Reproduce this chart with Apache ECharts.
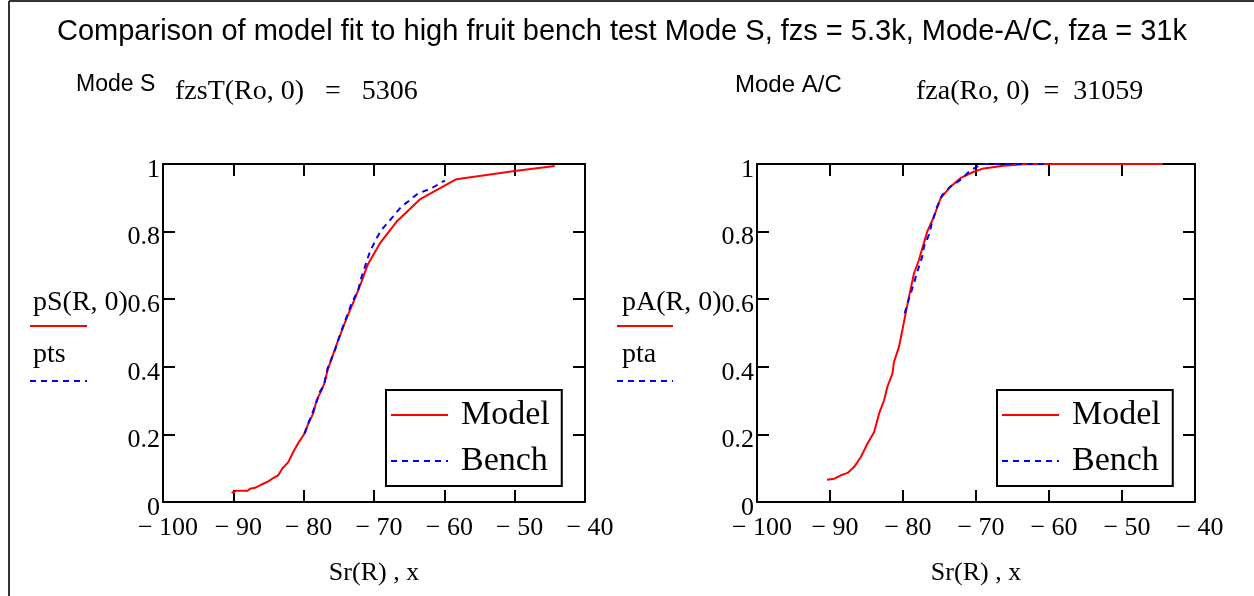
<!DOCTYPE html>
<html>
<head>
<meta charset="utf-8">
<script src="https://cdn.jsdelivr.net/npm/echarts@6/dist/echarts.min.js"></script>
<style>html,body{margin:0;padding:0;background:#fff}#c{width:1254px;height:596px}</style>
</head>
<body>
<div id="c"></div>
<script>
// ---- data ----
const xTicks = [-100, -90, -80, -70, -60, -50, -40];
const yTicks = [0, 0.2, 0.4, 0.6, 0.8, 1];

const modelS_x = [-90.24,-89.67,-87.96,-87.63,-86.92,-86.21,-85.74,-85.03,-84.32,-83.61,-83.04,-82.19,-81.48,-80.67,-79.82,-79.35,-78.64,-78.16,-77.45,-77.07,-76.60,-76.03,-75.09,-73.90,-72.72,-71.77,-70.92,-69.17,-66.80,-63.49,-58.28,-49.99,-44.31];
const modelS_y = [0.027,0.033,0.033,0.039,0.042,0.049,0.054,0.061,0.071,0.079,0.099,0.118,0.148,0.178,0.204,0.232,0.262,0.301,0.331,0.350,0.390,0.424,0.479,0.543,0.602,0.652,0.701,0.765,0.829,0.895,0.955,0.979,0.994];

const benchS_x = [-79.91,-79.35,-78.78,-78.16,-77.69,-77.12,-76.60,-75.56,-74.61,-73.19,-72.25,-71.77,-71.21,-70.59,-69.65,-68.94,-67.52,-66.10,-64.91,-63.73,-61.84,-59.93];
const benchS_y = [0.202,0.232,0.262,0.296,0.326,0.346,0.395,0.449,0.508,0.587,0.627,0.666,0.701,0.740,0.780,0.805,0.839,0.874,0.893,0.913,0.928,0.951];

const modelA_x = [-90.41,-89.41,-88.50,-87.59,-86.68,-85.77,-84.86,-83.95,-83.27,-82.59,-82.14,-81.45,-81.23,-80.55,-80.09,-79.64,-79.18,-78.50,-77.82,-76.68,-75.77,-74.86,-73.50,-72.14,-70.32,-68.95,-66.23,-63.50,-59.86,-44.41];
const modelA_y = [0.066,0.069,0.079,0.086,0.104,0.133,0.173,0.207,0.262,0.301,0.341,0.380,0.415,0.459,0.508,0.558,0.607,0.676,0.716,0.800,0.844,0.898,0.933,0.958,0.977,0.987,0.995,0.999,1.0,1.0];

const benchA_x = [-79.77,-79.18,-78.50,-78.05,-77.36,-77.14,-76.45,-76.00,-75.32,-74.64,-73.50,-72.14,-70.77,-69.41,-68.95,-59.86];
const benchA_y = [0.558,0.602,0.647,0.681,0.726,0.755,0.790,0.829,0.874,0.908,0.933,0.953,0.981,0.997,1.0,1.0];

const titleText = 'Comparison of model fit to high fruit bench test Mode S, fzs = 5.3k, Mode-A/C, fza = 31k';
const seriesNames = ['Model', 'Bench'];

// ---- chart ----
const SERIF = '"Liberation Serif","Times New Roman",serif';
const SANS = '"Liberation Sans",Arial,sans-serif';
const zip = (a, b) => a.map((v, i) => [v, b[i]]);
const fmtX = v => (v < 0 ? '\u2212 ' + Math.abs(v) : String(v));
const fmtY = v => String(+v.toFixed(1));

function xAxes(gi) {
  return [
    { gridIndex: gi, type: 'value', position: 'bottom', min: xTicks[0], max: xTicks[xTicks.length-1], interval: 10,
      axisLine: { show: true, onZero: false, lineStyle: { color: '#000', width: 2 } },
      axisTick: { show: true, inside: true, length: 12, lineStyle: { color: '#000', width: 2 } },
      axisLabel: { show: true, formatter: fmtX, color: '#000', fontFamily: SERIF, fontSize: 26, margin: 13, padding: [0,0,0,10] },
      splitLine: { show: false },
      name: 'Sr(R) , x', nameLocation: 'middle', nameGap: 58,
      nameTextStyle: { color: '#000', fontFamily: SERIF, fontSize: 26 } },
    { gridIndex: gi, type: 'value', position: 'top', min: xTicks[0], max: xTicks[xTicks.length-1], interval: 10,
      axisLine: { show: true, onZero: false, lineStyle: { color: '#000', width: 2 } },
      axisTick: { show: true, inside: true, length: 12, lineStyle: { color: '#000', width: 2 } },
      axisLabel: { show: false }, splitLine: { show: false } }
  ];
}
function yAxes(gi) {
  return [
    { gridIndex: gi, type: 'value', position: 'left', min: 0, max: 1, interval: 0.2,
      axisLine: { show: true, onZero: false, lineStyle: { color: '#000', width: 2 } },
      axisTick: { show: true, inside: true, length: 12, lineStyle: { color: '#000', width: 2 } },
      axisLabel: { show: true, formatter: fmtY, color: '#000', fontFamily: SERIF, fontSize: 26, margin: 3, verticalAlign: 'top', lineHeight: 12 },
      splitLine: { show: false } },
    { gridIndex: gi, type: 'value', position: 'right', min: 0, max: 1, interval: 0.2,
      axisLine: { show: true, onZero: false, lineStyle: { color: '#000', width: 2 } },
      axisTick: { show: true, inside: true, length: 12, lineStyle: { color: '#000', width: 2 } },
      axisLabel: { show: false }, splitLine: { show: false } }
  ];
}
function mkSeries(name, xs, ys, gi, color, dashed) {
  return { name: name, type: 'line', xAxisIndex: gi * 2, yAxisIndex: gi * 2, data: zip(xs, ys),
    showSymbol: false, symbol: 'none', animation: false, smooth: false,
    lineStyle: { color: color, width: 2, type: dashed ? [6, 5] : 'solid' }, itemStyle: { color: color } };
}
function mkLegend(left) {
  return { data: seriesNames, orient: 'vertical', left: left, top: 390,
    padding: [8, 12, 8, 4], itemGap: 12, itemWidth: 57, itemHeight: 14,
    borderColor: '#000', borderWidth: 2, backgroundColor: '#fff',
    itemStyle: { opacity: 0 },
    textStyle: { color: '#000', fontFamily: SERIF, fontSize: 34, padding: [0, 0, 0, 8] },
    selectedMode: false };
}
function txt(x, y, s, font, size, extra) {
  return Object.assign({ type: 'text', left: x, top: y, style: { text: s, font: size + 'px ' + font, fill: '#000' } }, extra || {});
}
function hline(x1, x2, y, color, dash) {
  return { type: 'line', shape: { x1: x1, y1: y, x2: x2, y2: y }, style: { stroke: color, lineWidth: 2, lineDash: dash || null } };
}

const chart = echarts.init(document.getElementById('c'), null, { renderer: 'canvas' });
chart.setOption({
  backgroundColor: '#fff',
  animation: false,
  grid: [
    { left: 163, right: 669, top: 164, bottom: 94, containLabel: false },
    { left: 757, right: 59, top: 164, bottom: 94, containLabel: false }
  ],
  xAxis: xAxes(0).concat(xAxes(1)),
  yAxis: yAxes(0).concat(yAxes(1)),
  legend: [mkLegend(386), mkLegend(997)],
  series: [
    mkSeries('Model', modelS_x, modelS_y, 0, '#ff0000', false),
    mkSeries('Bench', benchS_x, benchS_y, 0, '#0000ff', true),
    mkSeries('Model', modelA_x, modelA_y, 1, '#ff0000', false),
    mkSeries('Bench', benchA_x, benchA_y, 1, '#0000ff', true)
  ],
  graphic: [
    hline(9, 1254, 1, '#333'),
    { type: 'line', shape: { x1: 9, y1: 1, x2: 9, y2: 596 }, style: { stroke: '#333', lineWidth: 2 } },
    txt(57, 17, titleText, SANS, 29),
    txt(76, 73, 'Mode S', SANS, 23),
    txt(175, 78, 'fzsT(Ro, 0)   =   5306', SERIF, 28),
    txt(735, 73, 'Mode A/C', SANS, 24),
    txt(916, 78, 'fza(Ro, 0)  =  31059', SERIF, 28),
    txt(33, 289, 'pS(R, 0)', SERIF, 28),
    hline(30, 87, 326, '#ff0000'),
    txt(33, 341, 'pts', SERIF, 28),
    hline(30, 87, 381, '#0000ff', [6, 5]),
    txt(622, 289, 'pA(R, 0)', SERIF, 28),
    hline(617, 673, 326, '#ff0000'),
    txt(622, 341, 'pta', SERIF, 28),
    hline(617, 673, 381, '#0000ff', [6, 5])
  ]
});
</script>
</body>
</html>
